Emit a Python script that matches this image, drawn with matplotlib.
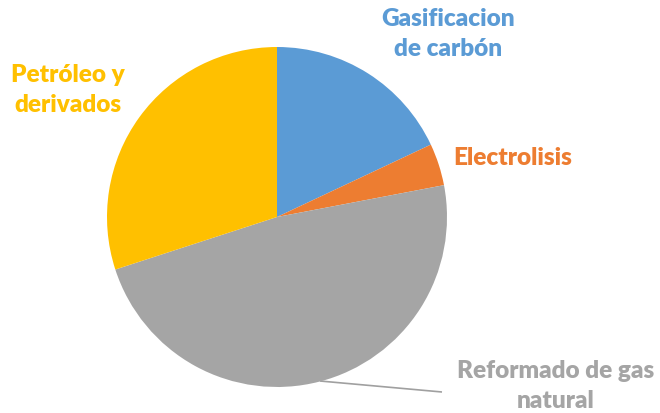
import matplotlib
matplotlib.use("Agg")
import matplotlib.pyplot as plt

categories = ["Gasificacion\nde carbón", "Electrolisis", "Reformado de gas\nnatural", "Petróleo y\nderivados"]
shares = [18, 4, 48, 30]
colors = ["#5B9BD5", "#ED7D31", "#A5A5A5", "#FFC000"]

W, H = 660, 413
fig = plt.figure(figsize=(W / 100, H / 100), dpi=100)
ax = fig.add_axes([0, 0, 1, 1])

cx, cy, r = 277, H - 217, 170
ax.pie(shares, colors=colors, startangle=90, counterclock=False,
       center=(cx, cy), radius=r, frame=True,
       wedgeprops=dict(linewidth=0))
ax.set_xlim(0, W)
ax.set_ylim(0, H)
ax.set_aspect("equal")
ax.axis("off")

font = dict(family="Lato", weight="heavy", fontsize=17.6, ha="center", va="center",
            linespacing=1.42)
label_pos = [(448, H - 34), (513, H - 158), (556, H - 386), (68, H - 90)]
for text, col, (x, y) in zip(categories, colors, label_pos):
    ax.text(x, y, text, color=col, **font)

# leader line for the gray slice label
ax.plot([320, 442], [H - 381, H - 392], color="#A0A0A0", lw=1.2,
        solid_capstyle="butt", zorder=0.5)

fig.savefig("out.png", dpi=100)
